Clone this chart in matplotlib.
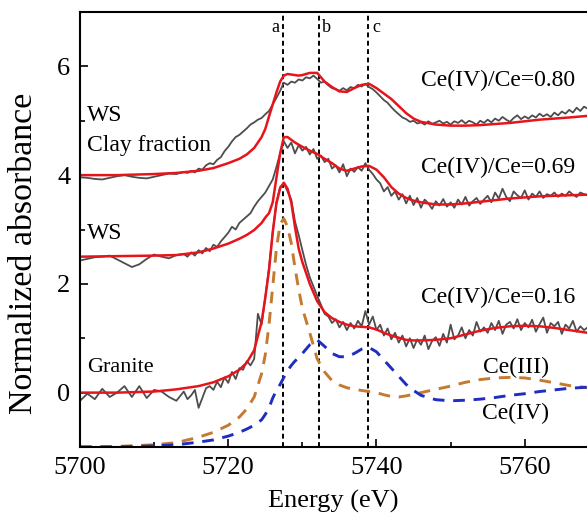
import numpy as np
import matplotlib
matplotlib.use("Agg")
import matplotlib.pyplot as plt
from matplotlib.ticker import MultipleLocator

plt.rcParams['font.family'] = 'serif'
plt.rcParams['font.serif'] = ['Liberation Serif', 'DejaVu Serif']

# energy grid of the smooth fits / components
e_fit = [5700, 5705, 5710, 5713, 5716, 5718, 5720, 5721.5, 5722.5, 5723.5,
         5724.5, 5725, 5725.5, 5726, 5726.5, 5727, 5727.5, 5728, 5728.5, 5729,
         5729.5, 5730, 5731, 5732, 5733, 5734, 5735, 5736, 5737, 5738,
         5739, 5740, 5741, 5742, 5743, 5744, 5745, 5746, 5748, 5750,
         5752, 5754, 5756, 5758, 5760, 5762, 5764, 5766, 5768.5]

fit_clay = [4.00, 4.00, 4.02, 4.04, 4.08, 4.13, 4.22, 4.30, 4.38, 4.50,
            4.70, 4.85, 5.08, 5.30, 5.52, 5.72, 5.83, 5.86, 5.85, 5.84,
            5.83, 5.84, 5.88, 5.88, 5.72, 5.62, 5.54, 5.53, 5.60, 5.66,
            5.68, 5.60, 5.50, 5.40, 5.27, 5.14, 5.04, 4.98, 4.93, 4.91,
            4.91, 4.92, 4.94, 4.96, 4.99, 5.02, 5.04, 5.06, 5.09]

fit_ws = [2.50, 2.51, 2.52, 2.53, 2.58, 2.65, 2.74, 2.83, 2.90, 2.99,
          3.12, 3.22, 3.30, 3.50, 3.95, 4.40, 4.70, 4.70, 4.65, 4.60,
          4.56, 4.52, 4.45, 4.39, 4.30, 4.22, 4.12, 4.08, 4.12, 4.16,
          4.17, 4.10, 3.96, 3.78, 3.66, 3.58, 3.53, 3.50, 3.46, 3.46,
          3.48, 3.51, 3.54, 3.57, 3.59, 3.61, 3.62, 3.63, 3.64]

fit_granite = [0.00, 0.00, 0.02, 0.06, 0.12, 0.19, 0.30, 0.42, 0.55, 0.78,
               1.30, 1.75, 2.25, 2.95, 3.48, 3.76, 3.86, 3.75, 3.50, 3.05,
               2.65, 2.40, 2.00, 1.68, 1.48, 1.37, 1.30, 1.25, 1.22, 1.21,
               1.20, 1.16, 1.10, 1.05, 1.01, 0.97, 0.96, 0.96, 0.97, 1.00,
               1.07, 1.14, 1.19, 1.22, 1.23, 1.22, 1.19, 1.15, 1.10]

ce3 = [-1.00, -0.99, -0.96, -0.92, -0.82, -0.73, -0.60, -0.45, -0.30, -0.08,
       0.35, 0.70, 1.25, 1.95, 2.65, 3.10, 3.20, 3.05, 2.75, 2.30,
       1.90, 1.55, 1.10, 0.62, 0.38, 0.22, 0.14, 0.09, 0.06, 0.04,
       0.02, 0.00, -0.04, -0.07, -0.08, -0.06, -0.03, 0.00, 0.06, 0.12,
       0.19, 0.24, 0.27, 0.28, 0.27, 0.23, 0.18, 0.13, 0.09]

ce4 = [-1.00, -1.00, -0.98, -0.96, -0.91, -0.87, -0.80, -0.73, -0.67, -0.60,
       -0.50, -0.40, -0.28, -0.10, 0.04, 0.15, 0.28, 0.40, 0.50, 0.58,
       0.64, 0.72, 0.88, 0.97, 0.85, 0.72, 0.66, 0.66, 0.72, 0.80,
       0.83, 0.75, 0.60, 0.45, 0.30, 0.15, 0.04, -0.05, -0.13, -0.15,
       -0.14, -0.12, -0.09, -0.05, -0.02, 0.02, 0.05, 0.08, 0.10]

# energy grid of the measured spectra
e_data = [5700, 5701, 5702, 5703, 5704, 5705, 5706, 5707, 5708, 5709,
          5710, 5711, 5712, 5713, 5714,
          5714.5, 5715, 5715.5, 5716, 5716.5, 5717, 5717.5, 5718, 5718.5, 5719,
          5719.5, 5720, 5720.5, 5721, 5721.5, 5722, 5722.5, 5723, 5723.5, 5724,
          5724.5, 5725, 5725.5, 5726, 5726.5, 5727, 5727.5, 5728, 5728.5, 5729,
          5729.5, 5730, 5730.5, 5731, 5731.5, 5732, 5732.5, 5733, 5733.5, 5734,
          5734.5, 5735, 5735.5, 5736, 5736.5, 5737, 5737.5, 5738, 5738.5, 5739,
          5739.5, 5740, 5740.5, 5741, 5741.5, 5742, 5742.5, 5743, 5743.5, 5744,
          5744.5, 5745, 5745.5, 5746, 5746.5, 5747, 5747.5, 5748, 5748.5, 5749,
          5749.5, 5750, 5750.5, 5751, 5751.5, 5752, 5752.5, 5753, 5753.5, 5754,
          5754.5, 5755, 5755.5, 5756, 5756.5, 5757, 5757.5, 5758, 5758.5, 5759,
          5759.5, 5760, 5760.5, 5761, 5761.5, 5762, 5762.5, 5763, 5763.5, 5764,
          5764.5, 5765, 5765.5, 5766, 5766.5, 5767, 5767.5, 5768, 5768.5]

data_clay = [3.96, 3.95, 3.93, 3.92, 3.95, 3.98, 4.00, 3.97, 3.95, 3.94,
             3.97, 4.00, 4.03, 4.02, 4.06,
             4.04, 4.08, 4.05, 4.12, 4.10, 4.18, 4.22, 4.20, 4.28, 4.33,
             4.44, 4.52, 4.62, 4.70, 4.74, 4.80, 4.86, 4.93, 4.97, 5.02,
             5.05, 5.12, 5.18, 5.30, 5.42, 5.55, 5.70, 5.66, 5.72, 5.70,
             5.76, 5.74, 5.80, 5.78, 5.83, 5.77, 5.70, 5.72, 5.65, 5.60,
             5.58, 5.55, 5.60, 5.56, 5.62, 5.60, 5.66, 5.63, 5.68, 5.62,
             5.58, 5.52, 5.45, 5.38, 5.33, 5.25, 5.18, 5.12, 5.06, 5.03,
             4.98, 5.00, 4.95, 4.97, 4.93, 4.99, 4.94, 4.97, 5.00, 4.95,
             4.98, 4.93, 4.99, 4.96, 5.01, 4.95, 5.00, 4.97, 4.93, 5.00,
             4.96, 5.02, 4.97, 5.04, 5.00, 5.07, 5.02, 4.98, 5.05, 5.10,
             5.03, 5.08, 5.04, 5.10, 5.06, 5.13, 5.08, 5.12, 5.07, 5.15,
             5.10, 5.17, 5.13, 5.20, 5.15, 5.24, 5.18, 5.26, 5.22]

data_ws = [2.43, 2.46, 2.49, 2.50, 2.52, 2.45, 2.38, 2.31, 2.36, 2.46,
           2.54, 2.50, 2.47, 2.53, 2.55,
           2.50, 2.58, 2.52, 2.62, 2.56, 2.66, 2.60, 2.72, 2.68, 2.78,
           2.86, 2.94, 3.05, 3.00, 3.12, 3.18, 3.24, 3.30, 3.42, 3.52,
           3.60, 3.68, 3.80, 3.92, 4.15, 4.40, 4.62, 4.50, 4.60, 4.40,
           4.55, 4.45, 4.52, 4.38, 4.48, 4.30, 4.36, 4.24, 4.30, 4.12,
           4.18, 4.05, 4.20, 3.98, 4.12, 4.06, 4.15, 4.08, 4.22, 4.10,
           4.02, 3.92, 3.85, 3.70, 3.78, 3.62, 3.70, 3.55, 3.65, 3.48,
           3.62, 3.45, 3.58, 3.40, 3.55, 3.48, 3.38, 3.52, 3.44, 3.56,
           3.42, 3.50, 3.40, 3.55, 3.46, 3.60, 3.44, 3.52, 3.58, 3.47,
           3.55, 3.62, 3.50, 3.68, 3.57, 3.75, 3.60, 3.52, 3.70, 3.63,
           3.58, 3.72, 3.55, 3.66, 3.60, 3.70, 3.58, 3.65, 3.62, 3.68,
           3.60, 3.66, 3.62, 3.70, 3.64, 3.60, 3.68, 3.65, 3.63]

data_granite = [-0.15, -0.02, -0.12, 0.07, -0.08, 0.00, 0.12, -0.08, 0.12, -0.10,
                0.05, 0.02, -0.08, -0.15, 0.02,
                -0.12, -0.05, 0.05, -0.28, -0.10, 0.08, 0.12, 0.05, 0.20, 0.10,
                0.28, 0.18, 0.38, 0.25, 0.45, 0.42, 0.58, 0.50, 0.62, 1.45,
                1.25, 1.75, 2.30, 2.95, 3.50, 3.78, 3.85, 3.70, 3.55, 3.15,
                2.90, 2.62, 2.35, 2.12, 1.95, 1.78, 1.62, 1.45, 1.40, 1.28,
                1.35, 1.20, 1.30, 1.15, 1.28, 1.18, 1.32, 1.22, 1.50, 1.25,
                1.40, 1.15, 1.25, 1.05, 1.18, 0.98, 1.10, 0.92, 1.05, 0.85,
                1.00, 0.82, 0.98, 0.88, 1.05, 0.80, 0.95, 1.02, 0.86, 1.08,
                0.92, 1.25, 0.98, 1.05, 1.20, 1.00, 1.15, 1.05, 1.30, 1.12,
                1.20, 1.10, 1.28, 1.15, 1.32, 1.08, 1.25, 1.30, 1.18, 1.35,
                1.15, 1.28, 1.20, 1.34, 1.12, 1.26, 1.38, 1.10, 1.28, 1.22,
                1.30, 1.08, 1.25, 1.18, 1.32, 1.12, 1.22, 1.15, 1.20]

# feature energies a, b, c
feat_names = ['a', 'b', 'c']
feat_pos = [5727.4, 5732.2, 5738.9]

ratios = ['Ce(IV)/Ce=0.80', 'Ce(IV)/Ce=0.69', 'Ce(IV)/Ce=0.16']

fig = plt.figure(figsize=(5.87, 5.19), dpi=100)
ax = fig.add_axes([80/587, 1 - 447/519, 507/587, 435/519])

for xv in feat_pos:
    ax.axvline(xv, color='black', linestyle=(0, (2.5, 1.8)), linewidth=1.4, zorder=1)

# Ce(III) / Ce(IV) reference components
ax.plot(e_fit, ce3, color='#c47a30', linestyle=(0, (4, 3)), linewidth=2.1)
ax.plot(e_fit, ce4, color='#1f2dc0', linestyle=(0, (4, 3)), linewidth=2.1)

# measured spectra and their fits
for d in [data_clay, data_ws, data_granite]:
    ax.plot(e_data, d, color='#4d4d4d', linewidth=1.3)
for f in [fit_clay, fit_ws, fit_granite]:
    ax.plot(e_fit, f, color='#e8141c', linewidth=1.8)

# sample names
ax.text(5701.0, 5.1, 'WS', fontsize=17, va='center')
ax.text(5701.0, 4.55, 'Clay fraction', fontsize=17, va='center')
ax.text(5701.0, 2.93, 'WS', fontsize=17, va='center')
ax.text(5701.0, 0.47, 'Granite', fontsize=16, va='center')

ax.text(5756.4, 5.74, ratios[0], fontsize=17, ha='center', va='center')
ax.text(5756.4, 4.14, ratios[1], fontsize=17, ha='center', va='center')
ax.text(5756.4, 1.75, ratios[2], fontsize=17, ha='center', va='center')
ax.text(5758.8, 0.46, 'Ce(III)', fontsize=17, ha='center', va='center')
ax.text(5758.8, -0.39, 'Ce(IV)', fontsize=17, ha='center', va='center')

ax.text(feat_pos[0] - 0.5, 6.72, feat_names[0], fontsize=13, ha='right', va='center')
ax.text(feat_pos[1] + 0.5, 6.72, feat_names[1], fontsize=13, ha='left', va='center')
ax.text(feat_pos[2] + 0.5, 6.72, feat_names[2], fontsize=13, ha='left', va='center')

ax.set_xlim(5700, 5768.4)
ax.set_ylim(-1, 7)
ax.xaxis.set_major_locator(MultipleLocator(20))
ax.xaxis.set_minor_locator(MultipleLocator(10))
ax.yaxis.set_major_locator(MultipleLocator(2))
ax.yaxis.set_minor_locator(MultipleLocator(1))
ax.tick_params(which='both', direction='in', top=False, right=False, width=1.2)
ax.tick_params(which='major', length=6, labelsize=19, pad=7)
ax.tick_params(which='minor', length=3.5)

# right spine is cut off in the original
ax.spines['right'].set_visible(False)
for s in ['left', 'top', 'bottom']:
    ax.spines[s].set_linewidth(1.5)

ax.set_xlabel('Energy (eV)', fontsize=19, labelpad=8)
fig.text(24/587, 1 - 253/519, 'Normalized absorbance', fontsize=24.5,
         rotation=90, ha='center', va='center')

fig.savefig('out.png', dpi=100)
